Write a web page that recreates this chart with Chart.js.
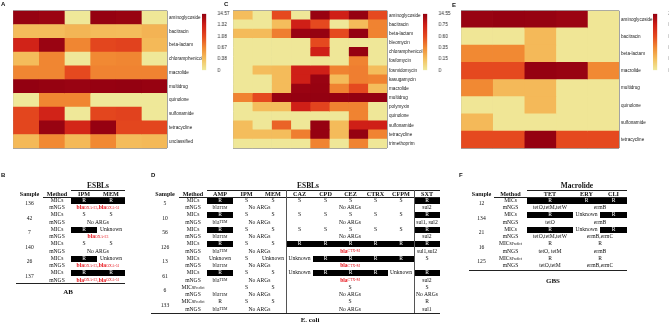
<!DOCTYPE html>
<html><head><meta charset="utf-8">
<script src="https://cdn.jsdelivr.net/npm/chart.js@4.4.0/dist/chart.umd.min.js"></script>
<style>
html,body{margin:0;padding:0;background:#fff;width:669px;height:324px;overflow:hidden;}
#root{position:relative;width:669px;height:324px;will-change:transform;}
canvas{position:absolute;}
.t{position:absolute;display:flex;align-items:center;justify-content:center;white-space:nowrap;font-family:'Liberation Serif','Times New Roman',serif;font-size:5.6px;color:#111;line-height:1;}
.hl{position:absolute;height:0;border-top:0.8px solid #222;}
.vl{position:absolute;width:0;border-left:0.8px solid #555;}
.lab{position:absolute;font-family:'Liberation Sans',Arial,sans-serif;font-weight:bold;font-size:6px;line-height:1;color:#111;}
sub{font-size:3.8px;vertical-align:-1px;line-height:0;}
sup{font-size:3.6px;vertical-align:2px;line-height:0;}
</style></head>
<body><div id="root"></div>
<script>
// ---------- heatmap data ----------
const heatStops = ['#EFEA9C','#F4C05E','#F18B34','#E5491F','#CF1F17','#930011'];

const rowsA = ['aminoglycoside','bacitracin','beta-lactam','chloramphenicol','macrolide','multidrug','quinolone','sulfonamide','tetracycline','unclassified'];
const breakLabelsA = ['0', '0.38', '0.67', '1.08', '1.32', '14.57'];
const valsA = [
  [13.9, 12.8, 0.02, 14.2, 13.5, 0.03],
  [0.40, 0.40, 0.44, 0.41, 0.40, 0.45],
  [1.30, 13.0, 0.70, 1.10, 1.12, 0.42],
  [0.40, 0.70, 0.02, 0.68, 0.70, 0.02],
  [0.70, 0.70, 1.08, 0.72, 0.72, 0.72],
  [14.5, 13.8, 13.2, 14.0, 14.3, 13.6],
  [0.02, 0.70, 0.70, 0.02, 0.02, 0.02],
  [1.10, 1.30, 0.02, 1.10, 1.12, 0.02],
  [1.10, 13.5, 1.28, 14.0, 1.10, 1.10],
  [0.42, 0.68, 0.42, 0.68, 0.40, 0.42]
];

const rowsC = ['aminoglycoside','bacitracin','beta-lactam','bleomycin','chloramphenicol','fosfomycin','fosmidomycin','kasugamycin','macrolide','multidrug','polymyxin','quinolone','sulfonamide','tetracycline','trimethoprim'];
const breakLabelsC = ['0', '0.15', '0.35', '0.60', '0.75', '14.55'];
const valsC = [
  [0.16, 0.01, 0.60, 0.01, 13.5, 0.76, 14.0, 0.60],
  [0.01, 0.01, 0.16, 0.76, 0.60, 0.01, 0.17, 0.38],
  [0.17, 0.17, 0.40, 13.0, 13.8, 0.60, 14.2, 0.38],
  [0.01, 0.01, 0.01, 0.01, 0.60, 0.01, 0.01, 0.01],
  [0.01, 0.01, 0.01, 0.01, 0.76, 0.01, 13.9, 0.01],
  [0.01, 0.01, 0.01, 0.01, 0.02, 0.01, 0.38, 0.01],
  [0.01, 0.16, 0.17, 0.76, 0.76, 0.38, 0.40, 0.16],
  [0.01, 0.01, 0.17, 0.76, 13.2, 0.17, 0.40, 0.38],
  [0.01, 0.01, 0.17, 13.0, 13.6, 0.38, 0.60, 0.16],
  [0.38, 0.60, 13.5, 14.0, 14.3, 14.1, 14.5, 14.4],
  [0.01, 0.16, 0.16, 0.76, 0.62, 0.38, 0.38, 0.01],
  [0.01, 0.01, 0.01, 0.01, 0.01, 0.01, 0.38, 0.01],
  [0.16, 0.01, 0.50, 0.01, 13.8, 0.17, 0.76, 0.76],
  [0.16, 0.16, 0.16, 0.40, 14.0, 0.17, 14.2, 0.38],
  [0.01, 0.01, 0.01, 0.01, 0.38, 0.01, 0.38, 0.01]
];

const rowsE = ['aminoglycoside','bacitracin','beta-lactam','macrolide','multidrug','quinolone','sulfonamide','tetracycline'];
const breakLabelsE = ['0', '0.05', '0.13', '0.42', '0.57', '2.46'];
const valsE = [
  [2.30, 2.40, 2.35, 2.20, 0.005],
  [0.005, 0.005, 0.06, 0.005, 0.005],
  [0.14, 0.14, 0.06, 0.005, 0.005],
  [0.42, 0.42, 2.40, 2.30, 0.14],
  [0.14, 0.06, 0.06, 0.005, 0.005],
  [0.005, 0.005, 0.06, 0.005, 0.005],
  [0.06, 0.005, 0.005, 0.005, 0.005],
  [0.42, 0.42, 2.40, 0.42, 0.42]
];

// ---------- table data ----------
const colsB = ['IPM','MEM'];
const samplesB = ['136','42','7','140','26','137'];
const micsB = [['R','R'],['S','S'],['R','Unknown'],['S','S'],['R','Unknown'],['R','R']];
const ngsB = [['OXA-23','OXA-51'],[],['OXA-23'],[],['OXA-23','OXA-51'],['OXA-23','OXA-51']];

const colsD = ['AMP','IPM','MEM','CAZ','CPD','CEZ','CTRX','CFPM','SXT'];
const samplesD = ['5','10','56','126','13','61','6','133'];
const predictD = [false,false,false,false,false,false,true,true];
const micsD = [
  ['R','S','S','S','S','S','S','S','R'],
  ['R','S','S','S','S','S','S','S','R'],
  ['R','S','S','S','S','S','S','S','R'],
  ['R','S','S','R','R','R','R','R','R'],
  ['Unknown','S','Unknown','Unknown','R','R','R','R','S'],
  ['R','S','S','Unknown','R','R','R','Unknown','R'],
  ['','S','S','S','S','S','S','S','S'],
  ['R','S','S','S','S','S','S','S','R']
];
const ngsAmpD = ['TEM','TEM','TEM','TEM','TEM','TEM','TEM','TEM'];
const ngsCarbD = ['No ARGs','No ARGs','No ARGs','No ARGs','No ARGs','No ARGs','No ARGs','No ARGs'];
const ngsCephD = ['No ARGs','No ARGs','No ARGs','CTX-M','CTX-M','CTX-M','No ARGs','No ARGs'];
const ngsSxtD = ['sul2','sul1, sul2','sul2','sul1,sul2','','sul2','No ARGs','sul1'];

const colsF = ['TET','ERY','CLI'];
const samplesF = ['12','134','21','16','125'];
const predictF = [false,false,false,true,true];
const micsF = [['R','R','R'],['R','Unknown','R'],['R','Unknown','R'],['R','R','R'],['R','R','R']];
const ngsTetF = ['tetO,tetM,tetW','tetO','tetO,tetM,tetW','tetO, tetM','tetO,tetM'];
const ngsMacF = ['ermB','ermB','ermB,ermC','ermB','ermB,ermC'];

// ---------- helpers ----------
const root = document.getElementById('root');
function hexToRgb(h){return [parseInt(h.slice(1,3),16),parseInt(h.slice(3,5),16),parseInt(h.slice(5,7),16)];}
function heatColor(v, labels){
  const br = labels.map(Number);
  let t = 0;
  if (v >= br[br.length-1]) t = br.length-1;
  else if (v > br[0]) { for (let i=0;i<br.length-1;i++){ if (v>=br[i] && v<=br[i+1]) { t = i + (v-br[i])/(br[i+1]-br[i]); break; } } }
  const i = Math.min(Math.floor(t), heatStops.length-2), f = t - i;
  const a = hexToRgb(heatStops[i]), b = hexToRgb(heatStops[i+1]);
  const c = a.map((x,k)=>Math.round(x+(b[k]-x)*f));
  return 'rgb('+c.join(',')+')';
}
function mkCanvas(left, top, W, H){
  const cv = document.createElement('canvas');
  cv.width = W; cv.height = H;
  cv.style.left = left+'px'; cv.style.top = top+'px';
  cv.style.width = W+'px'; cv.style.height = H+'px';
  root.appendChild(cv);
  return cv;
}
const labelFont = {family:"'Liberation Sans', Arial, sans-serif", size:4.6};
function makeHeat(x0, y0, w, h, labelW, rows, vals, labels){
  const cv = mkCanvas(x0-1, y0-1, 1+w+labelW, h+2);
  const nC = vals[0].length;
  const datasets = [];
  for (let j=0;j<nC;j++){
    datasets.push({data: rows.map(()=>1), backgroundColor: rows.map((r,i)=>heatColor(vals[i][j], labels)),
      borderWidth:0, barPercentage:1, categoryPercentage:1});
  }
  new Chart(cv, {type:'bar', data:{labels:rows, datasets},
    options:{indexAxis:'y', responsive:false, animation:false, events:[],
      layout:{padding:{left:1, top:1, bottom:1, right:0}},
      plugins:{legend:{display:false}, tooltip:{enabled:false}},
      scales:{
        x:{type:'linear', stacked:true, min:0, max:nC, display:true,
           ticks:{display:false, stepSize:1}, grid:{color:'#a3a3a3', lineWidth:1, drawTicks:false},
           border:{display:false}, z:1, afterFit:s=>{s.height=0;}},
        y:{type:'category', position:'right', stacked:true,
           ticks:{autoSkip:false, font:labelFont, color:'#222', padding:2},
           grid:{offset:true, color:'#a3a3a3', lineWidth:1, drawTicks:false},
           border:{display:false}, z:1, afterFit:s=>{s.width=labelW;}}
      }}});
}
function makeBar(x0, y0, w, h, labels){
  const labelW = 26;
  const cv = mkCanvas(x0, y0-4, w+labelW, h+8);
  new Chart(cv, {type:'bar', data:{labels:[''], datasets:[{data:[[0, labels.length-1]],
      backgroundColor: ctx => { const a = ctx.chart.chartArea; if (!a) return heatStops[0];
        const g = ctx.chart.ctx.createLinearGradient(0, a.bottom, 0, a.top);
        heatStops.forEach((c,i)=>g.addColorStop(i/(heatStops.length-1), c)); return g; },
      borderWidth:0, barPercentage:1, categoryPercentage:1}]},
    options:{responsive:false, animation:false, events:[],
      layout:{padding:{top:4, bottom:4, left:0, right:0}},
      plugins:{legend:{display:false}, tooltip:{enabled:false}},
      scales:{
        x:{display:false},
        y:{position:'right', min:0, max:labels.length-1,
           ticks:{stepSize:1, autoSkip:false, callback:v=>labels[v], font:labelFont, color:'#222', padding:3},
           grid:{display:false}, border:{display:false}, afterFit:s=>{s.width=labelW;}}
      }}});
}

// ---------- heatmaps ----------
makeHeat(13, 7, 154, 145, 40, rowsA, valsA, breakLabelsA);
makeBar(202, 12, 4.5, 60, breakLabelsA);
makeHeat(233, 7, 154, 145, 40, rowsC, valsC, breakLabelsC);
makeBar(423, 12, 4.5, 60, breakLabelsC);
makeHeat(461, 7, 158, 145, 40, rowsE, valsE, breakLabelsE);
makeBar(653, 12, 4.5, 60, breakLabelsE);

// ---------- tables ----------
const RT = 197, RH = 7.25;
function box(x0,x1,y0,y1,html,opt){
  opt = opt || {};
  const d = document.createElement('div'); d.className = 't';
  d.style.left = x0+'px'; d.style.top = y0+'px';
  d.style.width = (x1-x0)+'px'; d.style.height = (y1-y0)+'px';
  if (opt.black){ d.style.background = '#000'; d.style.color = '#fff'; }
  if (opt.red){ d.style.color = '#e8141b'; }
  if (opt.bold) d.style.fontWeight = 'bold';
  if (opt.size) d.style.fontSize = opt.size+'px';
  d.innerHTML = html; root.appendChild(d);
}
function cell(x0,x1,r,html,opt){
  const y0 = RT + r*RH;
  if (opt && opt.black) box(x0, x1, y0+0.6, y0+RH-0.6, html, opt);
  else box(x0, x1, y0, y0+RH, html, opt);
}
function hline(x0,x1,y){ const d=document.createElement('div'); d.className='hl'; d.style.left=x0+'px'; d.style.top=y+'px'; d.style.width=(x1-x0)+'px'; root.appendChild(d); }
function vline(x,y0,y1){ const d=document.createElement('div'); d.className='vl'; d.style.left=x+'px'; d.style.top=y0+'px'; d.style.height=(y1-y0)+'px'; root.appendChild(d); }
function header(x0,x1,txt){ box(x0,x1,190.5,197,txt,{bold:true,size:6.2}); }
function group(x0,x1,txt){ box(x0,x1,181.5,190,txt,{bold:true,size:7.4}); }
function sample(x0,x1,i,txt){ box(x0,x1,RT+2*i*RH,RT+(2*i+2)*RH,txt); }
function bla(g){ return '<b>bla</b><sub>'+g+'</sub>'; }
function label(x,y,txt){ const d=document.createElement('div'); d.className='lab'; d.style.left=x+'px'; d.style.top=y+'px'; d.textContent=txt; root.appendChild(d); }
function mcell(x0,x1,r,v,pred){ if (!v) return; cell(x0,x1,r,v,{black: v==='R' && !pred}); }

// Table B
(function(){
  const sX=[16,43], mX=[43,71], cX=[[71,97],[97,125]];
  group(71,125,'ESBLs'); hline(71,125,190);
  header(sX[0],sX[1],'Sample'); header(mX[0],mX[1],'Method');
  colsB.forEach((c,k)=>header(cX[k][0],cX[k][1],c));
  hline(43,125,197);
  samplesB.forEach((s,i)=>{
    sample(sX[0],sX[1],i,s);
    cell(mX[0],mX[1],2*i,'MICs'); cell(mX[0],mX[1],2*i+1,'mNGS');
    micsB[i].forEach((v,k)=>mcell(cX[k][0],cX[k][1],2*i,v,false));
    if (ngsB[i].length) cell(71,125,2*i+1,ngsB[i].map(bla).join(', '),{red:true});
    else cell(71,125,2*i+1,'No ARGs');
  });
  hline(16,125,283);
  box(30,106,287,297,'AB',{bold:true,size:7});
})();

// Table D
(function(){
  const sX=[151,179], mX=[179,207];
  const cX=[[207,233],[233,260],[260,286],[286,313],[313,338],[338,363],[363,388],[388,414],[414,440]];
  group(280,336,'ESBLs'); hline(207,440,190);
  header(sX[0],sX[1],'Sample'); header(mX[0],mX[1],'Method');
  colsD.forEach((c,k)=>header(cX[k][0],cX[k][1],c));
  hline(179,440,197);
  samplesD.forEach((s,i)=>{
    const p = predictD[i];
    sample(sX[0],sX[1],i,s);
    cell(mX[0],mX[1],2*i, p ? 'MICs<sup>Predict</sup>' : 'MICs');
    cell(mX[0],mX[1],2*i+1,'mNGS');
    micsD[i].forEach((v,k)=>{
      if (p && k>=3 && k<=7) return;
      mcell(cX[k][0],cX[k][1],2*i,v,p);
    });
    if (p) cell(286,414,2*i,micsD[i][5]);
    cell(cX[0][0],cX[0][1],2*i+1,'bla<sub>'+ngsAmpD[i]+'</sub>');
    cell(233,286,2*i+1,ngsCarbD[i]);
    if (ngsCephD[i]==='No ARGs') cell(286,414,2*i+1,'No ARGs');
    else cell(286,414,2*i+1,bla(ngsCephD[i]),{red:true});
    if (ngsSxtD[i]) cell(414,440,2*i+1,ngsSxtD[i]);
  });
  vline(286,190,313); vline(414,190,313);
  hline(151,440,313);
  box(280,340,315,325,'E. coli',{bold:true,size:7});
})();

// Table F
(function(){
  const sX=[469,494], mX=[494,527], cX=[[527,573],[573,600],[600,627]];
  group(527,627,'Macrolide'); hline(527,627,190);
  header(sX[0],sX[1],'Sample'); header(mX[0],mX[1],'Method');
  colsF.forEach((c,k)=>header(cX[k][0],cX[k][1],c));
  hline(494,627,197);
  samplesF.forEach((s,i)=>{
    const p = predictF[i];
    sample(sX[0],sX[1],i,s);
    cell(mX[0],mX[1],2*i, p ? 'MICs<sup>Predict</sup>' : 'MICs');
    cell(mX[0],mX[1],2*i+1,'mNGS');
    mcell(cX[0][0],cX[0][1],2*i,micsF[i][0],p);
    if (p) cell(573,627,2*i,micsF[i][1]);
    else { mcell(cX[1][0],cX[1][1],2*i,micsF[i][1],p); mcell(cX[2][0],cX[2][1],2*i,micsF[i][2],p); }
    cell(cX[0][0],cX[0][1],2*i+1,ngsTetF[i]);
    cell(573,627,2*i+1,ngsMacF[i]);
  });
  hline(469,627,269.5);
  box(523,583,276,286,'GBS',{bold:true,size:7});
})();

// panel labels
label(1,1,'A'); label(224,1,'C'); label(452,1.5,'E');
label(1,172,'B'); label(151,172,'D'); label(459,172,'F');
</script>
</body></html>
